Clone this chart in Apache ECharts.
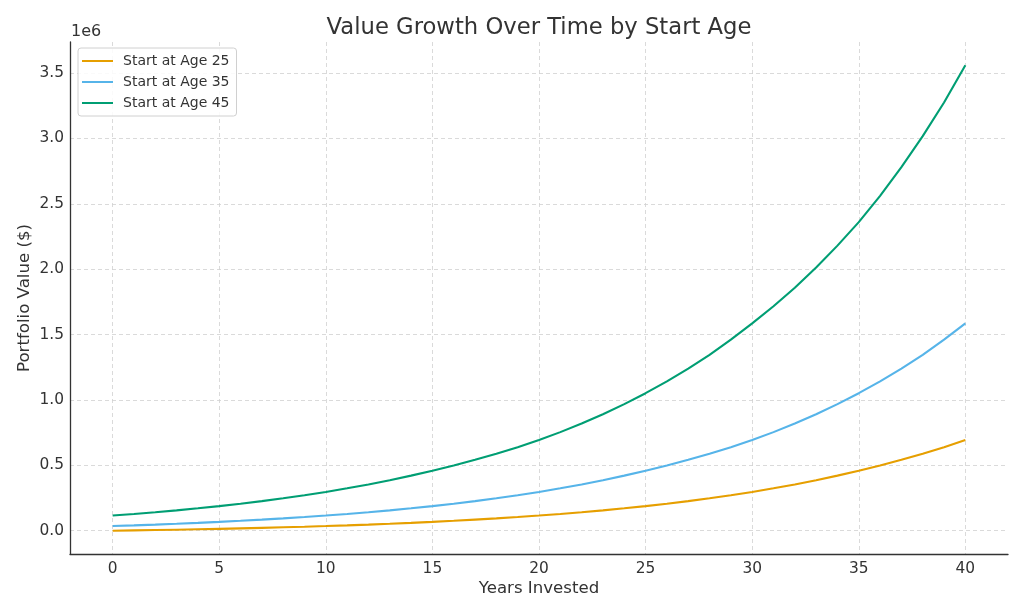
<!DOCTYPE html>
<html>
<head>
<meta charset="utf-8">
<script src="https://cdn.jsdelivr.net/npm/echarts@6/dist/echarts.min.js"></script>
<style>
html,body{margin:0;padding:0;background:#fff;}
#chart{width:1024px;height:614px;}
</style>
</head>
<body>
<div id="chart"></div>
<script>
const years = [0,1,2,3,4,5,6,7,8,9,10,11,12,13,14,15,16,17,18,19,20,21,22,23,24,25,26,27,28,29,30,31,32,33,34,35,36,37,38,39,40];
const seriesNames = ["Start at Age 25","Start at Age 35","Start at Age 45"];
const age25 = [0,2400,5000,7900,10900,14300,17900,21800,26100,30600,35700,41100,47000,53400,60300,67800,75900,84800,94300,104700,116000,128200,141400,155800,171400,188300,206600,226400,248000,271400,296700,324200,354000,386300,421300,459400,499100,542100,588600,638900,693200];
const age35 = [35700,41100,47000,53400,60300,67800,75900,84800,94300,104700,116000,128200,141400,155800,171400,188300,206600,226400,248000,271400,296700,324200,354000,386300,421300,459400,499100,542100,588600,638900,693200,754200,820200,891100,968700,1051900,1142000,1239700,1345500,1461600,1585900];
const age45 = [116000,128200,141400,155800,171400,188300,206600,226400,248000,271400,296700,324200,354000,386300,421300,459400,499100,542100,588600,638900,693200,754200,820200,891100,968700,1051900,1142000,1239700,1345500,1461600,1585900,1717100,1859000,2012500,2180500,2360000,2561700,2780400,3017800,3275000,3560000];
const xTicks = [0,5,10,15,20,25,30,35,40];
const yTicks = [0,500000,1000000,1500000,2000000,2500000,3000000,3500000];
const colors = ["#E69F00","#56B4E9","#009E73"];

const font = "DejaVu Sans";
const chart = echarts.init(document.getElementById('chart'), null, {renderer:'canvas'});
const mk = (arr) => years.map((y,i)=>[y, arr[i]]);
const lineSeries = [age25, age35, age45].map((arr, i) => ({
  name: seriesNames[i],
  type: 'line',
  data: mk(arr),
  showSymbol: false,
  symbol: 'none',
  smooth: false,
  lineStyle: {width: 2.1, color: colors[i]},
  itemStyle: {color: colors[i]},
  emphasis: {disabled: true}
}));

chart.setOption({
  animation: false,
  backgroundColor: '#fff',
  textStyle: {fontFamily: font},
  title: {
    text: 'Value Growth Over Time by Start Age',
    left: 534, top: 12, textAlign: 'center',
    textStyle: {fontFamily: font, fontSize: 22.7, fontWeight: 'normal', color: '#333'}
  },
  legend: {
    orient: 'vertical',
    left: 78, top: 48,
    width: 158,
    padding: [5, 7, 5, 4],
    itemWidth: 31, itemHeight: 2,
    itemGap: 5,
    icon: 'rect',
    backgroundColor: 'rgba(255,255,255,0.85)',
    borderColor: '#d0d0d0', borderWidth: 1, borderRadius: 3,
    textStyle: {fontFamily: font, fontSize: 14, color: '#333', lineHeight: 16, padding: [0,0,0,5]},
    data: seriesNames
  },
  graphic: [{
    type: 'text', left: 71, top: 24,
    style: {text: '1e6', font: '16px "DejaVu Sans"', fill: '#333'}
  }],
  grid: {left: 70, right: 16, top: 42, bottom: 60, containLabel: false},
  xAxis: {
    type: 'value', min: -2, max: 42,
    name: 'Years Invested', nameLocation: 'middle', nameGap: 26, nameMoveOverlap: false,
    nameTextStyle: {fontFamily: font, fontSize: 16.6, color: '#333', verticalAlign: 'top'},
    axisLine: {show: true, onZero: false, lineStyle: {color: '#333', width: 1.3}},
    axisTick: {show: false, customValues: xTicks},
    axisLabel: {customValues: xTicks, fontFamily: font, fontSize: 15.4, color: '#333', margin: 7},
    splitLine: {show: true, lineStyle: {type: [4, 3], color: '#d0d0d0', width: 0.8}}
  },
  yAxis: {
    type: 'value', min: -178000, max: 3738000,
    name: 'Portfolio Value ($)', nameLocation: 'middle', nameGap: 37, nameRotate: 90, nameMoveOverlap: false,
    nameTextStyle: {fontFamily: font, fontSize: 16.6, color: '#333'},
    axisLine: {show: true, onZero: false, lineStyle: {color: '#333', width: 1.3}},
    axisTick: {show: false, customValues: yTicks},
    axisLabel: {customValues: yTicks, fontFamily: font, fontSize: 15.4, color: '#333', margin: 6,
      formatter: v => (v/1e6).toFixed(1)},
    splitLine: {show: true, lineStyle: {type: [4, 3], color: '#d0d0d0', width: 0.8}}
  },
  series: lineSeries
});
</script>
</body>
</html>
